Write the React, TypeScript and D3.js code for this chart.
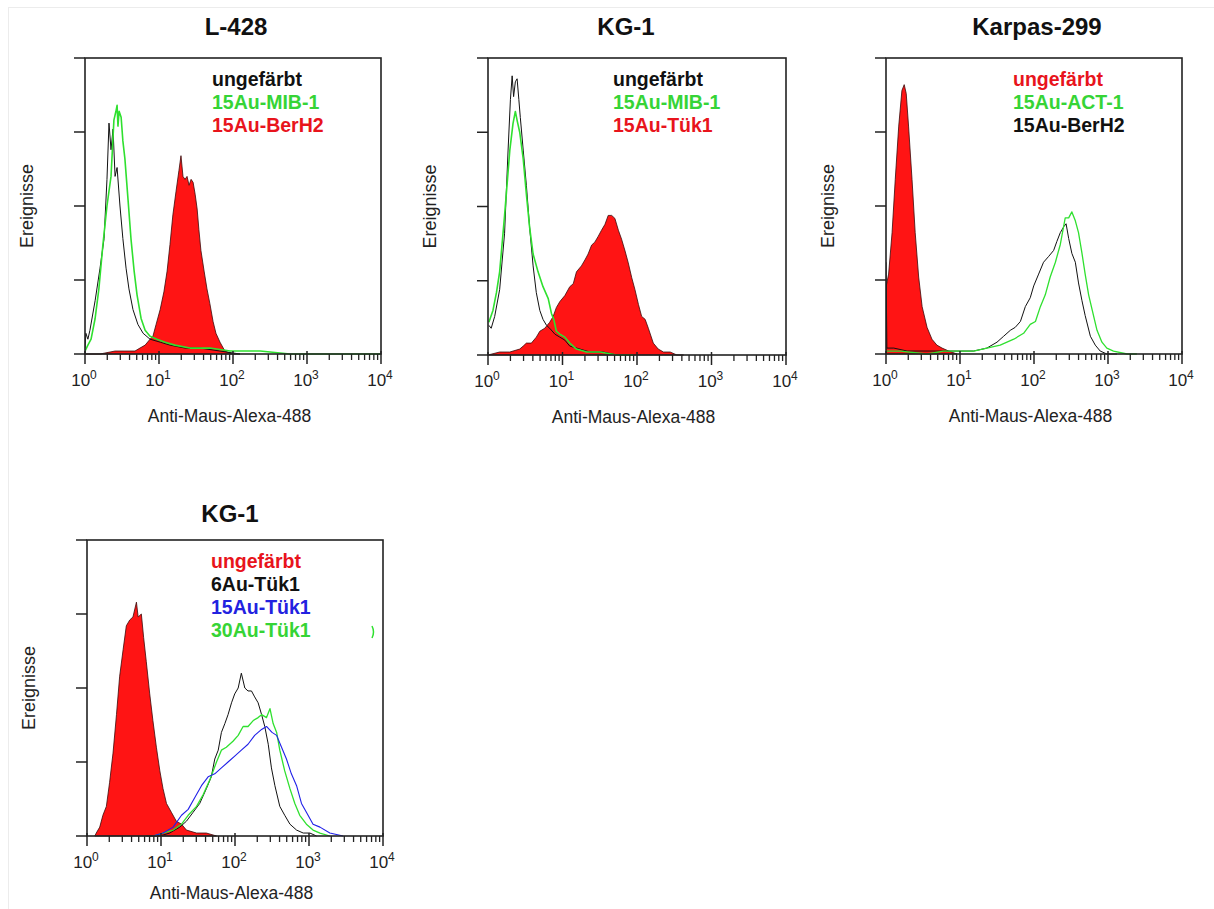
import React from "react";
import * as d3 from "d3";

// Flow cytometry histograms: [channel (0–1023, 4 log decades), relative event count]
type Pt = [number, number];

const CHANNELS_PER_DECADE = 256;

// ---- L-428 ----
const l428Unstained: Pt[] = [
  [0, 2], [3, 7], [10, 5], [17, 8], [35, 18], [52, 29], [66, 39], [76, 59], [83, 78], [90, 69],
  [97, 76], [104, 60], [111, 63], [121, 50], [131, 39], [142, 29], [152, 22], [166, 15], [183, 10],
  [201, 7], [225, 5], [260, 4], [294, 3], [346, 2], [398, 2], [467, 1], [536, 0],
];
const l428Mib1: Pt[] = [
  [0, 1], [10, 3], [21, 5], [35, 12], [48, 22], [62, 37], [76, 50], [90, 60], [100, 79], [107, 82],
  [111, 84], [114, 77], [118, 82], [125, 80], [131, 72], [138, 66], [149, 52], [159, 39], [170, 28],
  [180, 20], [194, 12], [208, 8], [225, 6], [249, 5], [277, 4], [311, 3], [363, 2], [433, 2],
  [502, 1], [606, 1], [709, 0], [1023, 0],
];
const l428BerH2: Pt[] = [
  [0, 0], [52, 0], [104, 1], [138, 1], [173, 1], [190, 2], [208, 3], [225, 5], [235, 6], [246, 10],
  [260, 15], [273, 21], [284, 28], [294, 37], [304, 47], [315, 55], [325, 62], [332, 67], [339, 60],
  [346, 59], [353, 60], [360, 57], [367, 59], [374, 58], [381, 54], [388, 49], [394, 42], [401, 35],
  [412, 28], [422, 22], [432, 17], [443, 11], [453, 7], [467, 4], [484, 1], [509, 0], [536, 0],
];

// ---- KG-1 (MIB-1 / Tük1) ----
const kg1Unstained: Pt[] = [
  [3, 10], [11, 9], [23, 13], [40, 22], [57, 41], [69, 69], [77, 86], [83, 94], [88, 87], [94, 92],
  [100, 93], [106, 86], [111, 80], [121, 69], [132, 57], [143, 43], [155, 30], [166, 21], [178, 15],
  [189, 12], [201, 10], [212, 9], [230, 7], [247, 6], [264, 5], [281, 3], [316, 2], [350, 1],
  [396, 1], [442, 0], [499, 0],
];
const kg1Mib1: Pt[] = [
  [3, 11], [17, 15], [29, 21], [40, 28], [57, 47], [75, 69], [86, 78], [94, 82], [100, 79], [109, 75],
  [121, 66], [132, 54], [143, 43], [155, 34], [172, 28], [189, 23], [207, 19], [218, 14], [226, 12],
  [235, 8], [247, 7], [264, 6], [281, 4], [304, 2], [339, 1], [385, 1], [442, 0], [499, 0],
];
const kg1Tuek1: Pt[] = [
  [0, 0], [40, 1], [75, 1], [109, 2], [121, 3], [132, 4], [149, 4], [166, 6], [178, 8], [195, 9],
  [212, 11], [224, 13], [235, 16], [247, 18], [264, 20], [281, 23], [293, 24], [304, 28], [321, 30],
  [333, 32], [344, 34], [356, 37], [367, 38], [379, 40], [390, 42], [402, 44], [413, 47], [425, 47],
  [436, 46], [448, 42], [459, 39], [471, 35], [482, 31], [494, 26], [505, 22], [517, 17], [528, 13],
  [540, 12], [551, 9], [568, 4], [585, 2], [603, 1], [626, 1], [649, 0], [672, 0],
];

// ---- Karpas-299 ----
const karpasUnstained: Pt[] = [
  [0, 0], [1, 23], [9, 27], [21, 41], [32, 59], [44, 77], [55, 89], [63, 91], [70, 88], [78, 77],
  [90, 59], [101, 41], [113, 26], [125, 16], [142, 9], [159, 5], [176, 3], [194, 2], [217, 1], [246, 0],
];
const karpasAct1: Pt[] = [
  [0, 1], [50, 1], [142, 0], [199, 1], [246, 1], [303, 1], [349, 2], [395, 3], [442, 5], [476, 7],
  [499, 10], [517, 11], [534, 16], [551, 20], [568, 26], [586, 31], [603, 37], [620, 46], [632, 46],
  [643, 48], [655, 45], [666, 41], [678, 34], [689, 27], [701, 20], [713, 15], [730, 8], [747, 4],
  [764, 2], [787, 1], [834, 0], [868, 0],
];
const karpasBerH2: Pt[] = [
  [0, 31], [3, 2], [27, 2], [73, 1], [142, 1], [199, 1], [246, 1], [303, 1], [349, 2], [384, 4],
  [407, 6], [430, 8], [447, 9], [465, 11], [482, 16], [499, 19], [511, 23], [528, 27], [545, 31],
  [563, 33], [580, 35], [591, 38], [603, 41], [615, 43], [623, 44], [632, 39], [643, 34], [655, 31],
  [666, 24], [678, 18], [689, 13], [707, 6], [724, 3], [741, 1], [764, 0], [799, 0],
];

// ---- KG-1 (Tük1 titration) ----
const kg1bUnstained: Pt[] = [
  [27, 0], [32, 1], [44, 3], [55, 7], [67, 10], [78, 18], [90, 28], [102, 41], [113, 54], [125, 63],
  [136, 71], [148, 73], [159, 74], [171, 79], [177, 74], [188, 75], [196, 67], [205, 59], [217, 48],
  [228, 39], [240, 30], [252, 22], [263, 16], [275, 11], [292, 8], [309, 5], [327, 4], [344, 2],
  [379, 1], [413, 1], [448, 0],
];
const kg1b6Au: Pt[] = [
  [205, 0], [252, 0], [286, 1], [321, 3], [344, 5], [367, 8], [390, 11], [413, 16], [430, 20],
  [442, 26], [454, 29], [465, 35], [477, 38], [488, 41], [500, 45], [511, 48], [523, 50], [534, 55],
  [546, 50], [557, 49], [569, 49], [580, 47], [592, 45], [604, 41], [615, 37], [627, 31], [638, 23],
  [650, 17], [667, 10], [684, 7], [702, 4], [725, 2], [748, 1], [771, 1], [794, 0],
];
const kg1b15Au: Pt[] = [
  [228, 0], [263, 1], [298, 3], [327, 7], [350, 9], [373, 13], [396, 17], [419, 20], [442, 21],
  [465, 23], [488, 25], [511, 27], [534, 29], [557, 31], [580, 34], [604, 36], [621, 37], [640, 35],
  [656, 34], [673, 30], [690, 26], [707, 21], [725, 17], [742, 11], [759, 8], [782, 4], [806, 3],
  [840, 1], [886, 0],
];
const kg1b30Au: Pt[] = [
  [228, 0], [263, 1], [298, 2], [327, 4], [350, 7], [379, 10], [402, 14], [425, 19], [448, 25],
  [465, 29], [482, 30], [505, 32], [523, 34], [540, 37], [557, 37], [575, 39], [592, 40], [604, 41],
  [621, 40], [633, 43], [644, 38], [656, 35], [667, 29], [684, 22], [702, 16], [719, 11], [736, 7],
  [759, 4], [782, 2], [806, 1], [840, 0],
];

const titles = ["L-428", "KG-1", "Karpas-299", "KG-1"];
const xAxisLabel = "Anti-Maus-Alexa-488";
const yAxisLabel = "Ereignisse";
const decades = [0, 1, 2, 3, 4];
const yTicks = [0, 25, 50, 75, 100];

const FONT = "'Liberation Sans', Arial, Helvetica, sans-serif";
const RED = "#ff1414";
const GREEN = "#2fe02f";
const BLUE = "#2020e8";
const BLACK = "#111111";
const TXT_RED = "#e8141c";
const TXT_GREEN = "#36d436";
const TXT_BLUE = "#2222e0";

type Series = { data: Pt[]; color: string; filled?: boolean; width?: number };
type LegendItem = { text: string; color: string };
type Layout = {
  left: number; top: number; width: number; height: number;
  titleX: number; titleY: number; legendX: number; xLabelDy: number;
};

const panels: { layout: Layout; title: string; legend: LegendItem[]; series: Series[] }[] = [
  {
    layout: { left: 85, top: 58, width: 296, height: 296, titleX: 236, titleY: 35, legendX: 212, xLabelDy: 68 },
    title: titles[0],
    legend: [
      { text: "ungefärbt", color: BLACK },
      { text: "15Au-MIB-1", color: TXT_GREEN },
      { text: "15Au-BerH2", color: TXT_RED },
    ],
    series: [
      { data: l428BerH2, color: RED, filled: true },
      { data: l428Unstained, color: BLACK, width: 1 },
      { data: l428Mib1, color: GREEN, width: 1.6 },
    ],
  },
  {
    layout: { left: 488, top: 58, width: 298, height: 297, titleX: 626, titleY: 35, legendX: 613, xLabelDy: 68 },
    title: titles[1],
    legend: [
      { text: "ungefärbt", color: BLACK },
      { text: "15Au-MIB-1", color: TXT_GREEN },
      { text: "15Au-Tük1", color: TXT_RED },
    ],
    series: [
      { data: kg1Tuek1, color: RED, filled: true },
      { data: kg1Unstained, color: BLACK, width: 1 },
      { data: kg1Mib1, color: GREEN, width: 1.6 },
    ],
  },
  {
    layout: { left: 886, top: 58, width: 296, height: 296, titleX: 1037, titleY: 35, legendX: 1013, xLabelDy: 68 },
    title: titles[2],
    legend: [
      { text: "ungefärbt", color: TXT_RED },
      { text: "15Au-ACT-1", color: TXT_GREEN },
      { text: "15Au-BerH2", color: BLACK },
    ],
    series: [
      { data: karpasUnstained, color: RED, filled: true },
      { data: karpasBerH2, color: BLACK, width: 1 },
      { data: karpasAct1, color: GREEN, width: 1.3 },
    ],
  },
  {
    layout: { left: 87, top: 540, width: 296, height: 296, titleX: 230, titleY: 522, legendX: 211, xLabelDy: 63 },
    title: titles[3],
    legend: [
      { text: "ungefärbt", color: TXT_RED },
      { text: "6Au-Tük1", color: BLACK },
      { text: "15Au-Tük1", color: TXT_BLUE },
      { text: "30Au-Tük1", color: TXT_GREEN },
    ],
    series: [
      { data: kg1bUnstained, color: RED, filled: true },
      { data: kg1b6Au, color: BLACK, width: 1 },
      { data: kg1b30Au, color: GREEN, width: 1.3 },
      { data: kg1b15Au, color: BLUE, width: 1.1 },
    ],
  },
];

function Histogram({ layout, title, legend, series, idx }: {
  layout: Layout; title: string; legend: LegendItem[]; series: Series[]; idx: number;
}) {
  const { left, top, width, height, titleX, titleY, legendX, xLabelDy } = layout;
  const bottom = top + height;
  const x = d3.scaleLog().domain([1, 1e4]).range([left, left + width]);
  const y = d3.scaleLinear().domain([0, 100]).range([bottom, top]);
  const chX = (ch: number) => x(Math.pow(10, ch / CHANNELS_PER_DECADE));
  const line = d3.line<Pt>().x((d) => chX(d[0])).y((d) => y(d[1]));
  const area = d3.area<Pt>().x((d) => chX(d[0])).y0(y(0)).y1((d) => y(d[1]));

  const minor: number[] = [];
  for (let k = 0; k < 4; k++) for (let m = 2; m <= 9; m++) minor.push(m * Math.pow(10, k));

  const clipId = `plot-clip-${idx}`;

  return (
    <g>
      <defs>
        <clipPath id={clipId}>
          <rect x={left} y={top - 2} width={width + 1} height={height + 3} />
        </clipPath>
      </defs>
      <text x={titleX} y={titleY} textAnchor="middle" fontFamily={FONT} fontWeight="bold" fontSize={24} fill="#111">
        {title}
      </text>

      <g clipPath={`url(#${clipId})`}>
        {series.map((s, i) =>
          s.filled ? (
            <path key={i} d={area(s.data) ?? ""} fill={s.color} stroke="#3a0a0a" strokeWidth={0.8} />
          ) : (
            <path key={i} d={line(s.data) ?? ""} fill="none" stroke={s.color} strokeWidth={s.width ?? 1.2} strokeLinejoin="round" />
          )
        )}
      </g>

      {/* frame */}
      <rect x={left} y={top} width={width} height={height} fill="none" stroke="#222" strokeWidth={1.6} />

      {/* y ticks */}
      {yTicks.map((t) => (
        <line key={t} x1={left - 11} x2={left} y1={y(t)} y2={y(t)} stroke="#222" strokeWidth={1.5} />
      ))}

      {/* x ticks */}
      {minor.map((v) => (
        <line key={v} x1={x(v)} x2={x(v)} y1={bottom} y2={bottom + 6} stroke="#222" strokeWidth={1.3} />
      ))}
      {decades.map((k) => (
        <line key={k} x1={x(Math.pow(10, k))} x2={x(Math.pow(10, k))} y1={bottom - 3} y2={bottom + 10} stroke="#222" strokeWidth={1.5} />
      ))}
      {decades.map((k) => (
        <text key={k} x={x(Math.pow(10, k)) - 1} y={bottom + 32} textAnchor="middle" fontFamily={FONT} fontSize={17} fill="#222">
          <tspan>10</tspan>
          <tspan dy={-7} fontSize={12}>{k}</tspan>
        </text>
      ))}

      <text x={left + width / 2 - 3.5} y={bottom + xLabelDy} textAnchor="middle" fontFamily={FONT} fontSize={17.5} fill="#222">
        {xAxisLabel}
      </text>
      <text
        transform={`translate(${left - 52},${top + height / 2}) rotate(-90)`}
        textAnchor="middle"
        fontFamily={FONT}
        fontSize={18}
        fill="#222"
      >
        {yAxisLabel}
      </text>

      {legend.map((item, i) => (
        <text key={item.text} x={legendX} y={top + 27.5 + i * 23.3} fontFamily={FONT} fontWeight="bold" fontSize={19.5} fill={item.color}>
          {item.text}
        </text>
      ))}
    </g>
  );
}

export default function App() {
  return (
    <svg
      width={1214}
      height={909}
      viewBox="0 0 1214 909"
      style={{ position: "absolute", left: 0, top: 0, background: "#fff" }}
    >
      <rect x={0} y={0} width={1214} height={909} fill="#fff" />
      <line x1={8} x2={1214} y1={7.5} y2={7.5} stroke="#ececec" strokeWidth={1} />
      <line x1={8.5} x2={8.5} y1={7} y2={909} stroke="#ececec" strokeWidth={1} />
      {panels.map((p, i) => (
        <Histogram key={i} idx={i} layout={p.layout} title={p.title} legend={p.legend} series={p.series} />
      ))}
      {/* small green stroke left beside the last legend */}
      <path d="M372,626 Q375,632 372,638" fill="none" stroke={GREEN} strokeWidth={1.5} />
    </svg>
  );
}
